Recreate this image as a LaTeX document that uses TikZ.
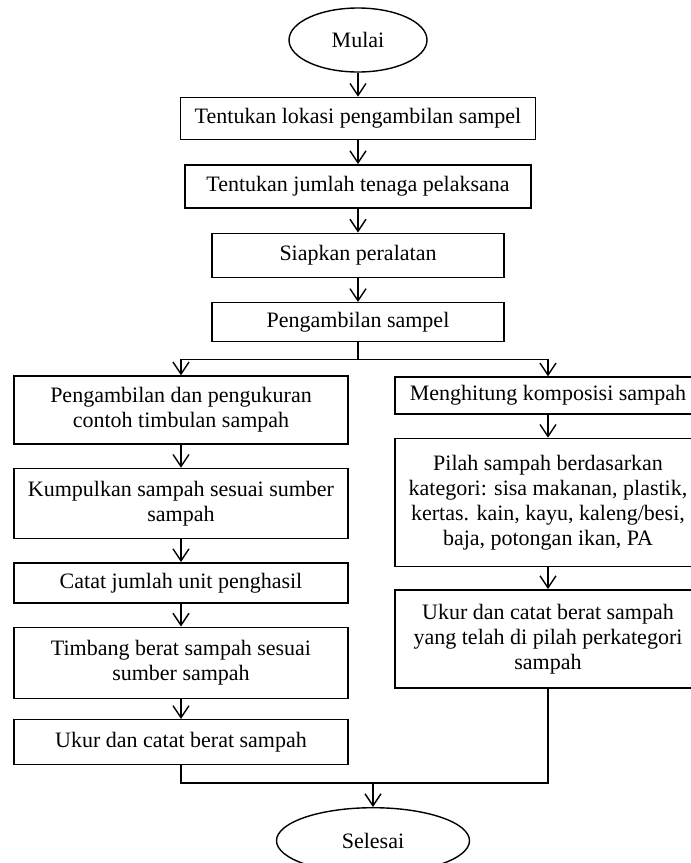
\documentclass[tikz,border=0pt]{standalone}
\usepackage{fontspec}
\setmainfont{Liberation Serif}
\usetikzlibrary{arrows.meta,positioning,shapes.geometric}

\begin{document}
\begin{tikzpicture}[x=0.5pt,y=-0.5pt,->,>={Straight Barb[length=6pt,width=8pt]},
        line width=0.7pt,node distance=11.5pt,font=\fontsize{11}{12.5}\selectfont,
        kotak/.style={draw,rectangle,align=center,inner sep=2pt},
        ujung/.style={draw,ellipse,inner sep=0pt}]
      \useasboundingbox (0,0) rectangle (691,863);
      % alur utama
      \node[ujung,minimum width=69pt,minimum height=32pt] (mulai) at (358,40) {Mulai};
      \node[kotak,minimum width=177.5pt,minimum height=21pt] (lokasi) [below=12pt of mulai] {Tentukan lokasi pengambilan sampel};
      \node[kotak,minimum width=173pt,minimum height=21.5pt] (tenaga) [below=12pt of lokasi] {Tentukan jumlah tenaga pelaksana};
      \node[kotak,minimum width=146pt,minimum height=22pt] (siapkan) [below=12pt of tenaga] {Siapkan peralatan};
      \node[kotak,minimum width=146pt,minimum height=19.5pt] (sampel) [below=12pt of siapkan] {Pengambilan sampel};
      \coordinate[below=8.5pt of sampel] (cabang);
      % kolom kiri
      \node[kotak,minimum width=167pt,minimum height=34pt] (timbulan) at (181,410) {Pengambilan dan pengukuran\\contoh timbulan sampah};
      \node[kotak,minimum width=167pt,minimum height=35pt] (kumpulkan) [below=of timbulan] {Kumpulkan sampah sesuai sumber\\sampah};
      \node[kotak,minimum width=167pt,minimum height=20pt] (catat) [below=of kumpulkan] {Catat jumlah unit penghasil};
      \node[kotak,minimum width=167pt,minimum height=35.5pt] (timbang) [below=of catat] {Timbang berat sampah sesuai\\sumber sampah};
      \node[kotak,minimum width=167pt,minimum height=22.5pt] (ukur) [below=10pt of timbang] {Ukur dan catat berat sampah};
      % kolom kanan
      \node[kotak,minimum width=153pt,minimum height=18.5pt] (komposisi) at (548,395.5) {Menghitung komposisi sampah};
      \node[kotak,minimum width=153pt,minimum height=64pt] (pilah) [below=of komposisi] {Pilah sampah berdasarkan\\kategori: sisa makanan, plastik,\\kertas. kain, kayu, kaleng/besi,\\baja, potongan ikan, PA};
      \node[kotak,minimum width=153pt,minimum height=49pt] (ukurkat) [below=11pt of pilah] {Ukur dan catat berat sampah\\yang telah di pilah perkategori\\sampah};
      \coordinate (gabung) at (373,783);
      \node[ujung,minimum width=96.5pt,minimum height=33pt] (selesai) [below=12pt of gabung] {Selesai};
      \path (mulai) edge (lokasi)
      (lokasi) edge (tenaga)
      (tenaga) edge (siapkan)
      (siapkan) edge (sampel)
      (timbulan) edge (kumpulkan)
      (kumpulkan) edge (catat)
      (catat) edge (timbang)
      (timbang) edge (ukur)
      (komposisi) edge (pilah)
      (pilah) edge (ukurkat);
      \draw[-] (sampel) -- (cabang);
      \draw (cabang) -| (timbulan);
      \draw (cabang) -| (komposisi);
      \draw[-] (ukur) |- (gabung) -| (ukurkat);
      \draw (gabung) -- (selesai);
    \end{tikzpicture}
\end{document}
